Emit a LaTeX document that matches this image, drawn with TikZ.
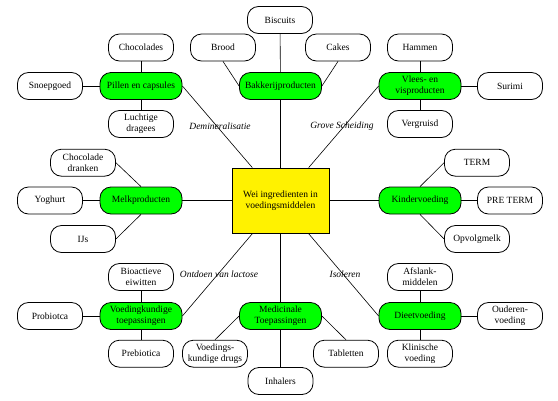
\documentclass[tikz,border=0pt]{standalone}
\usepackage{fontspec}
\setmainfont{Liberation Serif}
\begin{document}
\begin{tikzpicture}[x=1pt,y=-1pt,
  every node/.style={font=\fontsize{9.5}{10.7}\selectfont},
  leaf/.style={draw=black, line width=0.8pt, fill=white, rounded corners=11pt,
    minimum width=65pt, minimum height=27pt, inner sep=0pt, align=center},
  hub/.style={leaf, fill=green, minimum width=82pt},
  core/.style={draw=black, line width=0.8pt, fill=yellow, minimum width=97pt,
    minimum height=65pt, inner sep=0pt, align=center},
  lbl/.style={font=\fontsize{9.5}{10.7}\selectfont\itshape, inner sep=0pt},
  conn/.style={draw=black, line width=0.6pt}]
\useasboundingbox (0,0) rectangle (558,400);
% center
\node[core] (box) at (280.5,200.5) {Wei ingredienten in\\voedingsmiddelen};
% hubs
\node[hub] (pillen) at (141,86) {Pillen en capsules};
\node[hub] (bakkerij) at (280.5,86) {Bakkerijproducten};
\node[hub] (vlees) at (420,86) {Vlees- en\\visproducten};
\node[hub] (melk) at (141,200.5) {Melkproducten};
\node[hub] (kinder) at (420,200.5) {Kindervoeding};
\node[hub] (voeding) at (141,316) {Voedingkundige\\toepassingen};
\node[hub] (medicinale) at (280.5,316) {Medicinale\\Toepassingen};
\node[hub] (dieet) at (420,316) {Dieetvoeding};
% leaves
\node[leaf] (chocolades) at (141,47.5) {Chocolades};
\node[leaf] (snoepgoed) at (50,86) {Snoepgoed};
\node[leaf] (luchtige) at (141,124) {Luchtige\\dragees};
\node[leaf] (brood) at (223,47.5) {Brood};
\node[leaf] (biscuits) at (280,20) {Biscuits};
\node[leaf] (cakes) at (338,47.5) {Cakes};
\node[leaf] (hammen) at (420,47.5) {Hammen};
\node[leaf] (surimi) at (510,86) {Surimi};
\node[leaf] (vergruisd) at (420,124) {Vergruisd};
\node[leaf] (chocdranken) at (83,162.7) {Chocolade\\dranken};
\node[leaf] (yoghurt) at (50,200.5) {Yoghurt};
\node[leaf] (ijs) at (83,239) {IJs};
\node[leaf] (term) at (477,162.7) {TERM};
\node[leaf] (preterm) at (510,200.5) {PRE TERM};
\node[leaf] (opvolg) at (477,239) {Opvolgmelk};
\node[leaf] (bioactieve) at (141,277) {Bioactieve\\eiwitten};
\node[leaf] (probiotca) at (50,316) {Probiotca};
\node[leaf] (prebiotica) at (141,353.7) {Prebiotica};
\node[leaf] (drugs) at (215,353.7) {Voedings-\\kundige drugs};
\node[leaf] (inhalers) at (280.5,381) {Inhalers};
\node[leaf] (tabletten) at (346,353.7) {Tabletten};
\node[leaf] (afslank) at (420,277) {Afslank-\\middelen};
\node[leaf] (ouderen) at (510,316) {Ouderen-\\voeding};
\node[leaf] (klinische) at (420,353.7) {Klinische\\voeding};
% labels
\node[lbl] (l1) at (220,126) {Demineralisatie};
\node[lbl] (l2) at (342,126) {Grove Scheiding};
\node[lbl] (l3) at (219,274) {Ontdoen van lactose};
\node[lbl] (l4) at (345,274) {Isoleren};
% connectors from center
\draw[conn] (box) -- (pillen.east);
\draw[conn] (box) -- (vlees.west);
\draw[conn] (box) -- (voeding.east);
\draw[conn] (box) -- (dieet.west);
\draw[conn] (box) -- (bakkerij);
\draw[conn] (bakkerij) -- (biscuits);
\draw[conn] (box) -- (medicinale);
\draw[conn] (medicinale) -- (inhalers);
\draw[conn] (box) -- (melk);
\draw[conn] (box) -- (kinder);
% hub to leaves
\draw[conn] (pillen) -- (chocolades);
\draw[conn] (pillen) -- (snoepgoed);
\draw[conn] (pillen) -- (luchtige);
\draw[conn] (brood.south) -- (bakkerij.west);
\draw[conn] (cakes.south) -- (bakkerij.east);
\draw[conn] (vlees) -- (hammen);
\draw[conn] (vlees) -- (surimi);
\draw[conn] (vlees) -- (vergruisd);
\draw[conn] (chocdranken.east) -- (melk.north);
\draw[conn] (melk) -- (yoghurt);
\draw[conn] (ijs.east) -- (melk.south);
\draw[conn] (term.west) -- (kinder.north);
\draw[conn] (kinder) -- (preterm);
\draw[conn] (opvolg.west) -- (kinder.south);
\draw[conn] (voeding) -- (bioactieve);
\draw[conn] (voeding) -- (probiotca);
\draw[conn] (voeding) -- (prebiotica);
\draw[conn] (drugs.north) -- (medicinale.west);
\draw[conn] (tabletten.north) -- (medicinale.east);
\draw[conn] (dieet) -- (afslank);
\draw[conn] (dieet) -- (ouderen);
\draw[conn] (dieet) -- (klinische);
\end{tikzpicture}
\end{document}
